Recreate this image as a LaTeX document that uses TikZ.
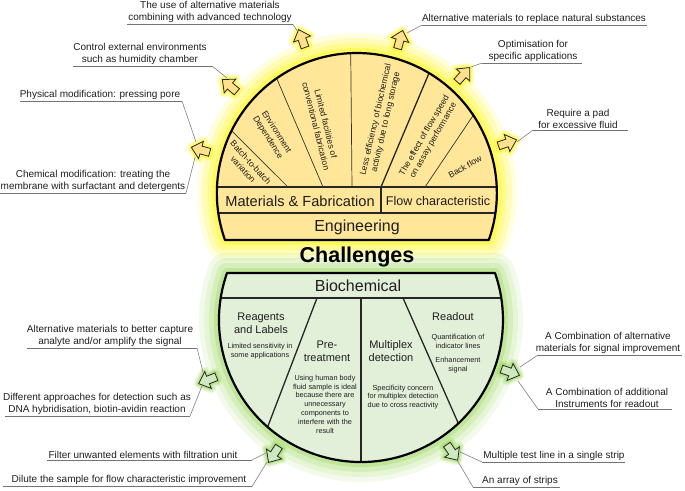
\documentclass[tikz,border=0pt]{standalone}
\usepackage{fontspec}
\setmainfont{Liberation Sans}
\usetikzlibrary{calc}
\definecolor{yfill}{RGB}{255,230,153}
\definecolor{gfill}{RGB}{226,240,217}
\definecolor{yglow}{RGB}{255,245,0}
\definecolor{gglow}{RGB}{140,210,70}
\definecolor{yarrow}{RGB}{255,224,140}
\definecolor{garrow}{RGB}{208,232,192}
\definecolor{txt}{RGB}{30,30,30}
\newcommand\blkarrow[5]{%
  \begin{scope}[shift={(#2,#3)}, rotate=#4]
    \coordinate (#1) at (0,0);
    \foreach \w/\o in {10/0.15,7/0.25,4/0.35}
      \draw[line width=\w pt, draw=#5glow, draw opacity=\o, line join=round]
        (-9,-4) -- (0,-4) -- (0,-9) -- (10,0) -- (0,9) -- (0,4) -- (-9,4) -- cycle;
    \draw[fill=#5arrow, draw=black!85, line width=0.8pt, line join=miter]
        (-9,-4) -- (0,-4) -- (0,-9) -- (10,0) -- (0,9) -- (0,4) -- (-9,4) -- cycle;
  \end{scope}}
\begin{document}
\begin{tikzpicture}[x=1pt,y=-1pt,
  lbl/.style={font=\fontsize{10}{11.6}\selectfont, align=center, inner sep=0pt, text=txt, anchor=south},
  rot/.style={font=\fontsize{8.6}{10.2}\selectfont, align=center, inner sep=0pt, text=txt},
  mid/.style={font=\fontsize{11}{12.7}\selectfont, align=center, inner sep=0pt, text=txt},
  small/.style={font=\fontsize{7.3}{8.8}\selectfont, align=center, inner sep=0pt, text=txt},
  head/.style={font=\fontsize{16}{18}\selectfont, inner sep=0pt, text=txt},
  uline/.style={draw=black!55, line width=0.9pt},
  leader/.style={draw=black!50, line width=0.6pt},
  thinline/.style={draw=black!80, line width=0.7pt},
  midline/.style={draw=black!85, line width=1.3pt},
  border/.style={draw=black, line width=2.2pt, line join=round},
]
\useasboundingbox (0,0) rectangle (685,490);
\coordinate (c1) at (357,193);
\coordinate (c2) at (361,320);

% ---------- glows ----------
\foreach \w/\o in {40/0.13,30/0.17,20/0.22,10/0.35}
  \draw[line width=\w pt, draw=yglow, draw opacity=\o, line join=round]
    (225,240) arc[start angle=160.4, end angle=379.6, radius=140] -- cycle;
\foreach \w/\o in {40/0.1,30/0.14,20/0.18,10/0.28}
  \draw[line width=\w pt, draw=gglow, draw opacity=\o, line join=round]
    (227,273) arc[start angle=199.33, end angle=-19.33, radius=142] -- cycle;

% ---------- top shape ----------
\fill[yfill] (225,240) arc[start angle=160.4, end angle=379.6, radius=140] -- cycle;
\begin{scope}
  \clip (225,240) arc[start angle=160.4, end angle=379.6, radius=140] -- cycle;
  \draw[midline] (200,187) -- (520,187);
  \draw[midline] (200,213) -- (520,213);
  \draw[midline] (381,187) -- (381,213);
  \draw[thinline] (288,187) -- ($(c1)+(207.1:145)$);
  \draw[thinline] (323,187) -- ($(c1)+(235.4:145)$);
  \draw[thinline] (352,187) -- ($(c1)+(267.5:145)$);
  \draw[midline] (381,187) -- ($(c1)+(300.7:145)$);
  \draw[thinline] (425,187) -- ($(c1)+(325.4:145)$);
\end{scope}
\draw[border] (225,240) arc[start angle=160.4, end angle=379.6, radius=140] -- cycle;

\node[rot, rotate=-48] (t1) at (247,166) {Batch-to-batch\\variation};
\node[rot, rotate=-58] (t2) at (272,135) {Environment\\Dependence};
\node[rot, rotate=-76] (t3) at (321,125) {Limited facilities of\\conventional fabrication};
\node[rot, rotate=77] (t4) at (381,121) {Less efficiency of biochemical\\activity due to long storage};
\node[rot, rotate=60] (t5) at (429,138) {The effect of flow speed\\on assay performance};
\node[rot, rotate=30] (t6) at (465,167) {Back flow};
\node[font=\fontsize{14.6}{16}\selectfont, inner sep=0pt, text=txt] (mf) at (300,201) {Materials \& Fabrication};
\node[font=\fontsize{12.6}{14}\selectfont, inner sep=0pt, text=txt] (fc) at (438,201) {Flow characteristic};
\node[head] (eng) at (357,227) {Engineering};

% ---------- bottom shape ----------
\fill[gfill] (227,273) arc[start angle=199.33, end angle=-19.33, radius=142] -- cycle;
\begin{scope}
  \clip (227,273) arc[start angle=199.33, end angle=-19.33, radius=142] -- cycle;
  \draw[midline] (200,298) -- (520,298);
  \draw[midline] (361,298) -- (361,470);
  \draw[midline] (317,298) -- ($(c2)+(130:150)$);
  \draw[midline] (403,298) -- ($(c2)+(47.8:150)$);
\end{scope}
\draw[border] (227,273) arc[start angle=199.33, end angle=-19.33, radius=142] -- cycle;

\node[head] (bio) at (358,286) {Biochemical};
\node[mid] (b1) at (261,323) {Reagents\\and Labels};
\node[small] (b2) at (260,351) {Limited sensitivity in\\some applications};
\node[mid] (b3) at (327,351) {Pre-\\treatment};
\node[small] (b4) at (325,404) {Using human body\\fluid sample is ideal\\because there are\\unnecessary\\components to\\interfere with the\\result};
\node[mid] (b5) at (391,351) {Multiplex\\detection};
\node[small] (b6) at (403,397) {Specificity concern\\for multiplex detection\\due to cross reactivity};
\node[mid] (b7) at (453,317) {Readout};
\node[small] (b8) at (458,341) {Quantification of\\indicator lines};
\node[small] (b9) at (458,365) {Enhancement\\signal};

\node[font=\fontsize{21.5}{24}\selectfont\bfseries, inner sep=0pt, text=black] (ch) at (357,257) {Challenges};

% ---------- arrows ----------
\blkarrow{a1}{201}{150}{164.6}{y}
\blkarrow{a2}{230}{86}{139.9}{y}
\blkarrow{a3}{302}{39}{109.7}{y}
\blkarrow{a4}{400}{40}{74.3}{y}
\blkarrow{a5}{463}{75}{48.1}{y}
\blkarrow{a6}{507}{143}{18.4}{y}
\blkarrow{a7}{208}{380}{201.4}{g}
\blkarrow{a8}{274}{454}{237}{g}
\blkarrow{a9}{510}{372}{-19.2}{g}
\blkarrow{a10}{452}{452}{-55.4}{g}

% ---------- labels ----------
\node[lbl] (lA) at (210,22.5) {The use of alternative materials\\combining with advanced technology};
\coordinate (uA1) at (127,24.5); \coordinate (uA2) at (293,24.5); \coordinate (pA) at (298,32);
\draw[uline] (uA1) -- (uA2); \draw[leader] (uA2) -- (pA);

\node[lbl] (lB) at (534,23.5) {Alternative materials to replace natural substances};
\coordinate (uB1) at (422,25); \coordinate (uB2) at (647,25); \coordinate (pB) at (407,33);
\draw[uline] (uB1) -- (uB2); \draw[leader] (uB1) -- (pB);

\node[lbl] (lC) at (140,64.5) {Control external environments\\such as humidity chamber};
\coordinate (uC1) at (73,66); \coordinate (uC2) at (212,66); \coordinate (pC) at (227,78);
\draw[uline] (uC1) -- (uC2); \draw[leader] (uC2) -- (pC);

\node[lbl] (lD) at (533,61.5) {Optimisation for\\specific applications};
\coordinate (uD1) at (482,63); \coordinate (uD2) at (582,63); \coordinate (pD) at (471,67);
\draw[uline] (uD1) -- (uD2); \draw[leader] (uD1) -- (pD);

\node[lbl] (lE) at (100,99.5) {Physical modification: pressing pore};
\coordinate (uE1) at (20,101); \coordinate (uE2) at (182,101); \coordinate (pE) at (196,142);
\draw[uline] (uE1) -- (uE2); \draw[leader] (uE2) -- (pE);

\node[lbl] (lF) at (93,191.5) {Chemical modification: treating the\\membrane with surfactant and detergents};
\coordinate (uF1) at (0,193); \coordinate (uF2) at (186,193); \coordinate (pF) at (195,157);
\draw[uline] (uF1) -- (uF2); \draw[leader] (uF2) -- (pF);

\node[lbl] (lG) at (578,128.5) {Require a pad\\for excessive fluid};
\coordinate (uG1) at (533,130); \coordinate (uG2) at (628,130); \coordinate (pG) at (517,142);
\draw[uline] (uG1) -- (uG2); \draw[leader] (uG1) -- (pG);

\node[lbl] (lH) at (110,346.5) {Alternative materials to better capture\\analyte and/or amplify the signal};
\coordinate (uH1) at (27,348); \coordinate (uH2) at (197,348); \coordinate (pH) at (203,372);
\draw[uline] (uH1) -- (uH2); \draw[leader] (uH2) -- (pH);

\node[lbl] (lI) at (97,414.5) {Different approaches for detection such as\\DNA hybridisation, biotin-avidin reaction};
\coordinate (uI1) at (5,416); \coordinate (uI2) at (190,416); \coordinate (pI) at (202,386);
\draw[uline] (uI1) -- (uI2); \draw[leader] (uI2) -- (pI);

\node[lbl] (lJ) at (143,458.5) {Filter unwanted elements with filtration unit};
\coordinate (uJ1) at (47,460); \coordinate (uJ2) at (252,460); \coordinate (pJ) at (266,453);
\draw[uline] (uJ1) -- (uJ2); \draw[leader] (uJ2) -- (pJ);

\node[lbl] (lK) at (129,485) {Dilute the sample for flow characteristic improvement};
\coordinate (uK1) at (3,486.5); \coordinate (uK2) at (252,486.5); \coordinate (pK) at (267,462);
\draw[uline] (uK1) -- (uK2); \draw[leader] (uK2) -- (pK);

\node[lbl] (lL) at (608,353.5) {A Combination of alternative\\materials for signal improvement};
\coordinate (uL1) at (538,355); \coordinate (uL2) at (682,355); \coordinate (pL) at (520,367);
\draw[uline] (uL1) -- (uL2); \draw[leader] (uL1) -- (pL);

\node[lbl] (lM) at (607,407.5) {A Combination of additional\\Instruments for readout};
\coordinate (uM1) at (538,409); \coordinate (uM2) at (672,409); \coordinate (pM) at (518,381);
\draw[uline] (uM1) -- (uM2); \draw[leader] (uM1) -- (pM);

\node[lbl] (lN) at (554,460.5) {Multiple test line in a single strip};
\coordinate (uN1) at (482,462); \coordinate (uN2) at (625,462); \coordinate (pN) at (460,452);
\draw[uline] (uN1) -- (uN2); \draw[leader] (uN1) -- (pN);

\node[lbl] (lO) at (520,485.5) {An array of strips};
\coordinate (uO1) at (473,487); \coordinate (uO2) at (560,487); \coordinate (pO) at (457,460);
\draw[uline] (uO1) -- (uO2); \draw[leader] (uO1) -- (pO);
\end{tikzpicture}
\end{document}
